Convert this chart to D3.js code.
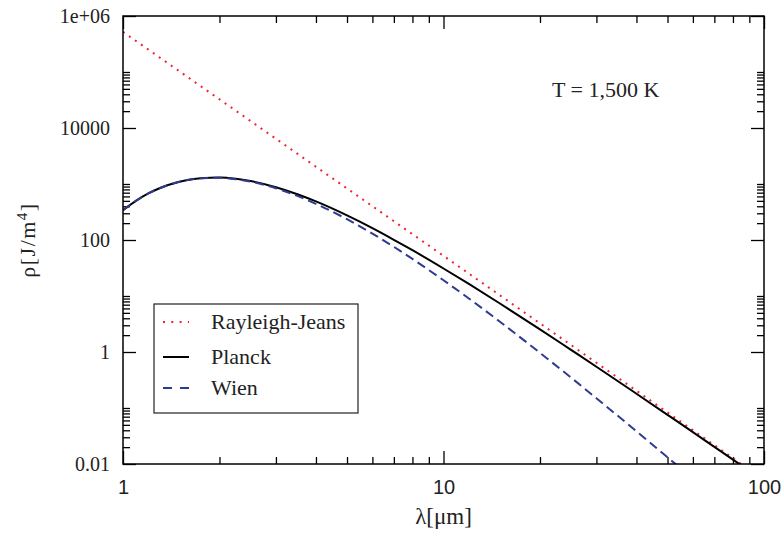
<!DOCTYPE html>
<html>
<head>
<meta charset="utf-8">
<script src="https://cdn.jsdelivr.net/npm/d3@7"></script>
<style>
body { margin: 0; background: #fff; }
</style>
</head>
<body>
<svg id="chart"></svg>
<script>
// 読み取った値 (λ は μm, ρ は J/m^4)
var lambdaPlanck = [1, 1.1, 1.2, 1.3, 1.5, 1.75, 2, 2.25, 2.5, 3, 3.5, 4, 5, 6, 7, 8, 10, 12, 15, 20, 25, 30, 40, 50, 60, 70, 80, 90];
var planckValues = [341, 506, 678, 841, 1100, 1273, 1301, 1237, 1127, 876, 656, 488, 275, 163, 101, 65.8, 31.0, 16.4, 7.34, 2.54, 1.09, 0.546, 0.180, 0.0756, 0.0371, 0.0202, 0.0120, 0.00752];
var lambdaWien = [1, 1.1, 1.2, 1.3, 1.5, 1.75, 2, 2.25, 2.5, 3, 3.5, 4, 5, 6, 7, 8, 10, 12, 15, 20, 25, 30, 40, 50, 55];
var wienValues = [341, 506, 678, 840, 1098, 1268, 1290, 1220, 1102, 840, 614, 443, 235, 130, 75.5, 45.9, 19.1, 9.03, 3.47, 0.966, 0.349, 0.149, 0.0384, 0.0132, 0.00834];
var lambdaRJ = [1, 2, 5, 10, 20, 50, 100];
var rjValues = [520600, 32540, 833, 52.1, 3.25, 0.0833, 0.0052];

var xMajorTicks = [1, 10, 100];
var xTickLabels = ["1", "10", "100"];
var yMajorTicks = [0.01, 1, 100, 10000, 1e6];
var yTickLabels = ["0.01", "1", "100", "10000", "1e+06"];
var legendNames = ["Rayleigh-Jeans", "Planck", "Wien"];

var width = 783;
var height = 535;
var marginLeft = 123, marginTop = 16, plotW = 641, plotH = 448;

var svg = d3.select("#chart")
    .attr("width", width)
    .attr("height", height);

var x = d3.scaleLog().domain([1, 100]).range([0, plotW]);
var y = d3.scaleLog().domain([0.01, 1e6]).range([plotH, 0]);

// 補助目盛り (gnuplot と同じで、主目盛りの 2〜10 倍)
var xMinorTicks = [];
[1, 10].forEach(function (b) {
    for (var k = 2; k <= 9; k++) xMinorTicks.push(b * k);
});
var yMinorTicks = [];
[0.01, 1, 100, 10000].forEach(function (b) {
    for (var k = 2; k <= 10; k++) yMinorTicks.push(b * k);
});

var g = svg.append("g")
    .attr("transform", "translate(" + marginLeft + "," + marginTop + ")");

function styleAxis(sel) {
    sel.select(".domain").remove();
    sel.selectAll(".tick line").attr("stroke", "#000").attr("stroke-width", 1.3);
}

// 左
g.append("g")
    .call(d3.axisLeft(y).tickValues(yMajorTicks).tickSize(-13).tickPadding(13)
        .tickFormat(function (d, i) { return yTickLabels[i]; }))
    .call(styleAxis)
    .selectAll("text")
    .attr("font-family", "'Liberation Serif', 'Times New Roman', serif")
    .attr("font-size", "20px")
    .attr("fill", "#222");
g.append("g")
    .call(d3.axisLeft(y).tickValues(yMinorTicks).tickSize(-7).tickFormat(""))
    .call(styleAxis);
// 右
g.append("g")
    .attr("transform", "translate(" + plotW + ",0)")
    .call(d3.axisRight(y).tickValues(yMajorTicks).tickSize(-13).tickFormat(""))
    .call(styleAxis);
g.append("g")
    .attr("transform", "translate(" + plotW + ",0)")
    .call(d3.axisRight(y).tickValues(yMinorTicks).tickSize(-7).tickFormat(""))
    .call(styleAxis);
// 下
g.append("g")
    .attr("transform", "translate(0," + plotH + ")")
    .call(d3.axisBottom(x).tickValues(xMajorTicks).tickSize(-13).tickPadding(16)
        .tickFormat(function (d, i) { return xTickLabels[i]; }))
    .call(styleAxis)
    .selectAll("text")
    .attr("font-family", "'Liberation Sans', Arial, sans-serif")
    .attr("font-size", "20px")
    .attr("fill", "#222");
g.append("g")
    .attr("transform", "translate(0," + plotH + ")")
    .call(d3.axisBottom(x).tickValues(xMinorTicks).tickSize(-7).tickFormat(""))
    .call(styleAxis);
// 上
g.append("g")
    .call(d3.axisTop(x).tickValues(xMajorTicks).tickSize(-13).tickFormat(""))
    .call(styleAxis);
g.append("g")
    .call(d3.axisTop(x).tickValues(xMinorTicks).tickSize(-7).tickFormat(""))
    .call(styleAxis);

g.append("clipPath").attr("id", "clip")
    .append("rect").attr("width", plotW).attr("height", plotH);

var line = d3.line()
    .x(function (d) { return x(d[0]); })
    .y(function (d) { return y(d[1]); })
    .curve(d3.curveMonotoneX);

var series = [
    { xs: lambdaRJ, ys: rjValues, color: "#ee2233", width: 2, dash: "2,5.3" },
    { xs: lambdaPlanck, ys: planckValues, color: "#000", width: 2, dash: null },
    { xs: lambdaWien, ys: wienValues, color: "#2e3b8f", width: 2, dash: "9,5" }
];

var curves = g.append("g").attr("clip-path", "url(#clip)");
series.forEach(function (s) {
    var pts = s.xs.map(function (v, i) { return [v, s.ys[i]]; });
    curves.append("path")
        .attr("d", line(pts))
        .attr("fill", "none")
        .attr("stroke", s.color)
        .attr("stroke-width", s.width)
        .attr("stroke-dasharray", s.dash);
});

// 枠
g.append("rect")
    .attr("width", plotW)
    .attr("height", plotH)
    .attr("fill", "none")
    .attr("stroke", "#000")
    .attr("stroke-width", 1.5);

// 凡例
var legend = svg.append("g");
legend.append("rect")
    .attr("x", 154).attr("y", 304)
    .attr("width", 204).attr("height", 109)
    .attr("fill", "#fff")
    .attr("stroke", "#222")
    .attr("stroke-width", 1.2);
var rowY = [322, 357, 388];
var legendDash = ["2,6.3", null, "9,8"];
legendNames.forEach(function (name, i) {
    legend.append("line")
        .attr("x1", 163).attr("x2", 189)
        .attr("y1", rowY[i]).attr("y2", rowY[i])
        .attr("stroke", series[i].color)
        .attr("stroke-width", 2)
        .attr("stroke-dasharray", legendDash[i]);
    legend.append("text")
        .attr("x", 211)
        .attr("y", rowY[i] + 7)
        .attr("font-family", "'Liberation Serif', 'Times New Roman', serif")
        .attr("font-size", "22px")
        .attr("fill", "#222")
        .text(name);
});

svg.append("text")
    .attr("x", 552)
    .attr("y", 97)
    .attr("font-family", "'Liberation Serif', 'Times New Roman', serif")
    .attr("font-size", "22px")
    .attr("fill", "#222")
    .text("T = 1,500 K");

// 軸ラベル
svg.append("text")
    .attr("x", marginLeft + plotW / 2)
    .attr("y", 524)
    .attr("text-anchor", "middle")
    .attr("font-family", "'Liberation Serif', 'Times New Roman', serif")
    .attr("font-size", "23px")
    .attr("fill", "#222")
    .text("λ[μm]");

var yLabel = svg.append("text")
    .attr("transform", "translate(35," + (marginTop + plotH * 0.5) + ") rotate(-90)")
    .attr("text-anchor", "middle")
    .attr("font-family", "'Liberation Serif', 'Times New Roman', serif")
    .attr("font-size", "22px")
    .attr("letter-spacing", "1.5px")
    .attr("fill", "#222");
yLabel.append("tspan").text("ρ[J/m");
yLabel.append("tspan").attr("dy", -8).attr("font-size", "15px").text("4");
yLabel.append("tspan").attr("dy", 8).text("]");
</script>
</body>
</html>
